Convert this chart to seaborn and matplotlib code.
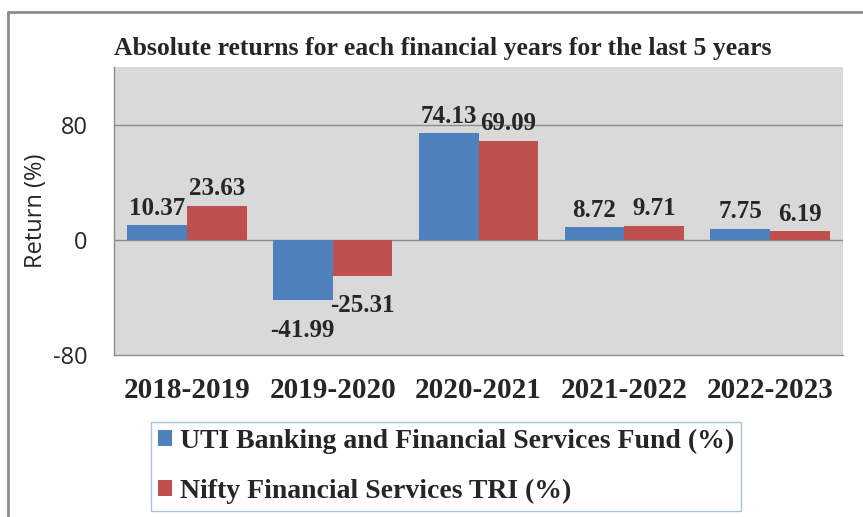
import matplotlib
matplotlib.use("Agg")
import matplotlib.pyplot as plt
from matplotlib.lines import Line2D
import pandas as pd
import seaborn as sns

years = ["2018-2019", "2019-2020", "2020-2021", "2021-2022", "2022-2023"]
fund = [10.37, -41.99, 74.13, 8.72, 7.75]
nifty = [23.63, -25.31, 69.09, 9.71, 6.19]
series = ["UTI Banking and Financial Services Fund (%)", "Nifty Financial Services TRI (%)"]
yticks = [-80, 0, 80]

df = pd.DataFrame({
    "year": years * 2,
    "value": fund + nifty,
    "series": [series[0]] * len(years) + [series[1]] * len(years),
})

sns.set_style("white")
plt.rcParams["axes.unicode_minus"] = False
serif = ["Liberation Serif", "DejaVu Serif"]
sans = ["Open Sans", "DejaVu Sans"]

fig = plt.figure(figsize=(8.63, 5.17), dpi=100)
ax = fig.add_axes([0.132, 0.313, 0.845, 0.557])
ax.set_facecolor("#d9d9d9")

sns.barplot(data=df, x="year", y="value", hue="series", order=years, hue_order=series,
            palette=["#4f81bd", "#c0504d"], width=0.82, saturation=1, linewidth=0,
            ax=ax, legend=True)

# positive labels sit just above, negative ones a bit further below
for c in ax.containers:
    vals = c.datavalues
    pos = ["%.2f" % v if v >= 0 else "" for v in vals]
    neg = ["%.2f" % v if v < 0 else "" for v in vals]
    ax.bar_label(c, labels=pos, padding=4, fontsize=18, fontweight="bold", family=serif)
    ax.bar_label(c, labels=neg, padding=13, fontsize=18, fontweight="bold", family=serif)

ax.set_ylim(-80, 120)
ax.set_yticks(yticks)
ax.axhline(80, color="#8c8c8c", lw=1, zorder=0)
ax.axhline(0, color="#8c8c8c", lw=1, zorder=0)
ax.set_xlabel("")
ax.set_ylabel("Return (%)", fontsize=17, family=sans)
ax.yaxis.set_label_coords(-0.09, 0.5)
ax.tick_params(axis="y", length=0, pad=19, labelsize=17)
for t in ax.get_yticklabels():
    t.set_family(sans)
ax.tick_params(axis="x", length=0, pad=16)
for t in ax.get_xticklabels():
    t.set_family(serif)
    t.set_fontweight("bold")
    t.set_fontsize(21)

for s in ["top", "right"]:
    ax.spines[s].set_visible(False)
for s in ["left", "bottom"]:
    ax.spines[s].set_color("#8c8c8c")
    ax.spines[s].set_linewidth(1)

ax.set_title("Absolute returns for each financial years for the last 5 years", loc="left",
             fontsize=18.5, fontweight="bold", family=serif, pad=9, x=0)

handles, labels = ax.get_legend_handles_labels()
ax.get_legend().remove()
leg = fig.legend(handles, labels, loc="upper left", bbox_to_anchor=(0.175, 0.184),
                 frameon=True, fancybox=False, handlelength=0.5, handleheight=0.5,
                 handletextpad=0.3, labelspacing=0.9, borderpad=0.25, borderaxespad=0,
                 prop={"family": serif, "weight": "bold", "size": 20})
leg.get_frame().set_edgecolor("#95b3d7")
leg.get_frame().set_linewidth(1)

# outer chart frame
fig.add_artist(Line2D([0.009, 1.0], [0.977, 0.977], color="#8c8c8c", lw=2, transform=fig.transFigure))
fig.add_artist(Line2D([0.009, 0.009], [0.0, 0.977], color="#8c8c8c", lw=2, transform=fig.transFigure))

fig.savefig("out.png", dpi=100)
